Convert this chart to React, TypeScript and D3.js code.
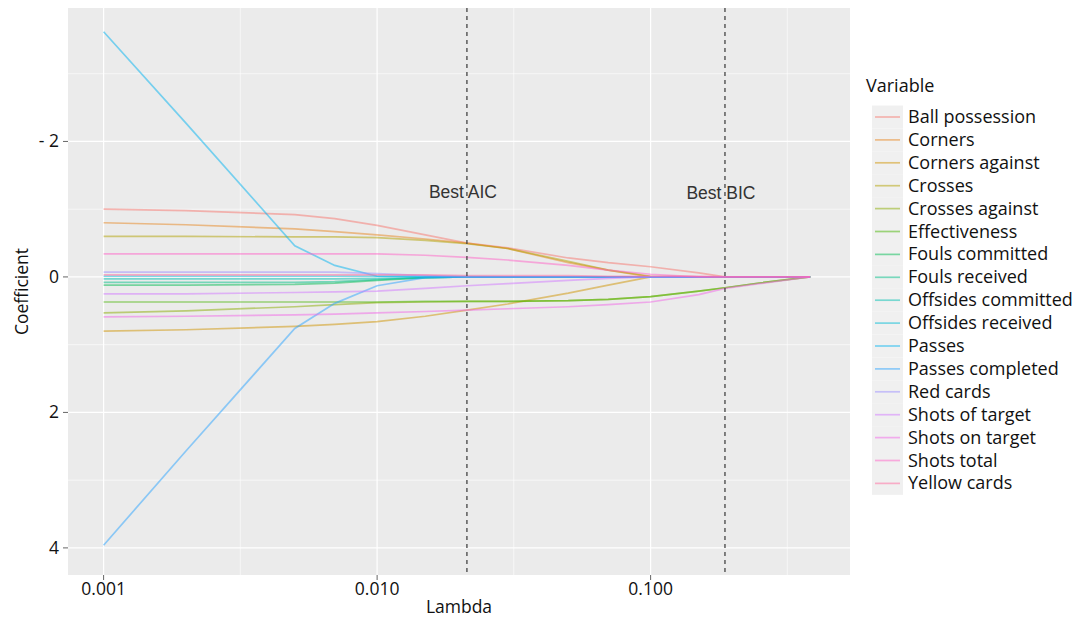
import React from 'react';
import * as d3 from 'd3';

// ---------- DATA ----------
const lambdas = [0.001, 0.002, 0.005, 0.007, 0.01, 0.015, 0.0213, 0.03, 0.05, 0.07, 0.1, 0.15, 0.187, 0.25, 0.383];

const variableNames = [
  'Ball possession', 'Corners', 'Corners against', 'Crosses', 'Crosses against',
  'Effectiveness', 'Fouls committed', 'Fouls received', 'Offsides committed',
  'Offsides received', 'Passes', 'Passes completed', 'Red cards',
  'Shots of target', 'Shots on target', 'Shots total', 'Yellow cards',
];

const ballPossession = [-1.0, -0.98, -0.92, -0.86, -0.76, -0.62, -0.5, -0.43, -0.28, -0.21, -0.15, -0.06, 0, 0, 0];
const corners = [-0.8, -0.77, -0.71, -0.67, -0.62, -0.56, -0.5, -0.42, -0.21, -0.1, 0, 0, 0, 0, 0];
const cornersAgainst = [0.8, 0.78, 0.73, 0.7, 0.66, 0.58, 0.49, 0.4, 0.24, 0.12, 0, 0, 0, 0, 0];
const crosses = [-0.6, -0.6, -0.59, -0.59, -0.58, -0.54, -0.49, -0.42, -0.23, -0.1, -0.01, 0, 0, 0, 0];
const crossesAgainst = [0.53, 0.5, 0.44, 0.41, 0.38, 0.37, 0.36, 0.36, 0.35, 0.33, 0.29, 0.21, 0.16, 0.09, 0];
const effectiveness = [0.37, 0.37, 0.37, 0.37, 0.37, 0.36, 0.36, 0.36, 0.35, 0.33, 0.29, 0.21, 0.16, 0.09, 0];
const foulsCommitted = [0.12, 0.12, 0.11, 0.09, 0.05, 0.01, 0, 0, 0, 0, 0, 0, 0, 0, 0];
const foulsReceived = [0.08, 0.08, 0.08, 0.07, 0.04, 0.01, 0, 0, 0, 0, 0, 0, 0, 0, 0];
const offsidesCommitted = [0.03, 0.03, 0.03, 0.03, 0.02, 0.01, 0, 0, 0, 0, 0, 0, 0, 0, 0];
const offsidesReceived = [-0.01, -0.01, -0.01, -0.01, -0.01, -0.01, -0.005, 0, 0, 0, 0, 0, 0, 0, 0];
const passes = [-3.62, -2.27, -0.46, -0.17, -0.01, 0, 0, 0, 0, 0, 0, 0, 0, 0, 0];
const passesCompleted = [3.96, 2.57, 0.76, 0.39, 0.13, 0.01, 0, 0, 0, 0, 0, 0, 0, 0, 0];
const redCards = [-0.07, -0.07, -0.07, -0.07, -0.05, -0.02, 0, 0, 0, 0, 0, 0, 0, 0, 0];
const shotsOfTarget = [0.25, 0.25, 0.23, 0.22, 0.21, 0.17, 0.13, 0.1, 0.05, 0.02, 0, 0, 0, 0, 0];
const shotsOnTarget = [0.59, 0.58, 0.56, 0.55, 0.53, 0.51, 0.49, 0.47, 0.44, 0.41, 0.37, 0.26, 0.17, 0.1, 0];
const shotsTotal = [-0.34, -0.34, -0.34, -0.34, -0.34, -0.32, -0.29, -0.25, -0.17, -0.1, -0.04, 0, 0, 0, 0];
const yellowCards = [-0.03, -0.03, -0.03, -0.03, -0.03, -0.03, -0.02, -0.02, -0.02, -0.01, -0.01, -0.01, 0, 0, 0];

const seriesValues = [
  ballPossession, corners, cornersAgainst, crosses, crossesAgainst, effectiveness,
  foulsCommitted, foulsReceived, offsidesCommitted, offsidesReceived, passes,
  passesCompleted, redCards, shotsOfTarget, shotsOnTarget, shotsTotal, yellowCards,
];

const bestAIC = 0.0213;
const bestBIC = 0.187;

const xTicks = [0.001, 0.01, 0.1];
const xTickLabels = ['0.001', '0.010', '0.100'];
const xMinorTicks = [0.00316, 0.0316, 0.316];
const yTicks = [-2, 0, 2, 4];
const yTickLabels = ['- 2', '0', '2', '4'];
const yMinorTicks = [-3, -1, 1, 3];

// ---------- COLOURS (ggplot hue palette, polar Luv) ----------
function hclHex(h: number, c: number, l: number): string {
  const hr = (h * Math.PI) / 180;
  const U = c * Math.cos(hr);
  const V = c * Math.sin(hr);
  const Y = l > 8 ? Math.pow((l + 16) / 116, 3) : l / 903.3;
  const un = 0.1978398;
  const vn = 0.4683363;
  const u = U / (13 * l) + un;
  const v = V / (13 * l) + vn;
  const X = (9 * Y * u) / (4 * v);
  const Z = (Y * (12 - 3 * u - 20 * v)) / (4 * v);
  const lin = [
    3.2404542 * X - 1.5371385 * Y - 0.4985314 * Z,
    -0.969266 * X + 1.8760108 * Y + 0.041556 * Z,
    0.0556434 * X - 0.2040259 * Y + 1.0572252 * Z,
  ];
  const gam = lin.map((x) => {
    const g = x <= 0.0031308 ? 12.92 * x : 1.055 * Math.pow(x, 1 / 2.4) - 0.055;
    return Math.round(Math.max(0, Math.min(1, g)) * 255);
  });
  return d3.rgb(gam[0], gam[1], gam[2]).formatHex();
}

const n = variableNames.length;
const colors = variableNames.map((_, i) => hclHex(15 + (360 / n) * i, 100, 65));

// ---------- LAYOUT ----------
const W = 1085;
const H = 619;
const panel = { left: 68, right: 850, top: 8, bottom: 575 };
const FONT = "'Open Sans', sans-serif";
const LINE_OPACITY = 0.5;

export default function App() {
  const x = d3.scaleLog().domain([0.000741, 0.5358]).range([panel.left, panel.right]);
  const y = d3.scaleLinear().domain([-3.97, 4.4]).range([panel.top, panel.bottom]);

  const line = d3
    .line<number>()
    .x((_, i) => x(lambdas[i]))
    .y((d) => y(d));

  const legendX = 866;
  const legendTitleY = 92;
  const rowY0 = 117;
  const rowH = 22.9;

  return (
    <svg width={W} height={H} style={{ position: 'absolute', left: 0, top: 0, background: '#fff' }}>
      <rect x={panel.left} y={panel.top} width={panel.right - panel.left} height={panel.bottom - panel.top} fill="#EBEBEB" />
      {yMinorTicks.map((t) => (
        <line key={'ym' + t} x1={panel.left} x2={panel.right} y1={y(t)} y2={y(t)} stroke="#fff" strokeWidth={0.6} />
      ))}
      {xMinorTicks.map((t) => (
        <line key={'xm' + t} y1={panel.top} y2={panel.bottom} x1={x(t)} x2={x(t)} stroke="#fff" strokeWidth={0.6} />
      ))}
      {yTicks.map((t) => (
        <line key={'yg' + t} x1={panel.left} x2={panel.right} y1={y(t)} y2={y(t)} stroke="#fff" strokeWidth={1.2} />
      ))}
      {xTicks.map((t) => (
        <line key={'xg' + t} y1={panel.top} y2={panel.bottom} x1={x(t)} x2={x(t)} stroke="#fff" strokeWidth={1.2} />
      ))}

      {seriesValues.map((vals, i) => (
        <path key={variableNames[i]} d={line(vals) || ''} fill="none" stroke={colors[i]} strokeOpacity={LINE_OPACITY} strokeWidth={1.7} />
      ))}

      {[bestAIC, bestBIC].map((b) => (
        <line key={'best' + b} x1={x(b)} x2={x(b)} y1={panel.top} y2={panel.bottom} stroke="#444" strokeWidth={1.3} strokeDasharray="4,4" />
      ))}
      <text x={x(bestAIC) - 4} y={198} textAnchor="middle" fontFamily="'Liberation Sans', Arial, sans-serif" fontSize={17.5} fill="#333">Best AIC</text>
      <text x={x(bestBIC) - 4} y={199} textAnchor="middle" fontFamily="'Liberation Sans', Arial, sans-serif" fontSize={17.5} fill="#333">Best BIC</text>

      {/* axes */}
      {yTicks.map((t, i) => (
        <g key={'yt' + t}>
          <line x1={panel.left - 5} x2={panel.left} y1={y(t)} y2={y(t)} stroke="#666" strokeWidth={1} />
          <text x={panel.left - 9} y={y(t) + 6} textAnchor="end" fontFamily={FONT} fontSize={17.5} fill="#111">{yTickLabels[i]}</text>
        </g>
      ))}
      {xTicks.map((t, i) => (
        <g key={'xt' + t}>
          <line y1={panel.bottom} y2={panel.bottom + 5} x1={x(t)} x2={x(t)} stroke="#666" strokeWidth={1} />
          <text x={x(t)} y={595} textAnchor="middle" fontFamily={FONT} fontSize={17.5} fill="#111">{xTickLabels[i]}</text>
        </g>
      ))}
      <text x={(panel.left + panel.right) / 2} y={613} textAnchor="middle" fontFamily={FONT} fontSize={17.5} fill="#111">Lambda</text>
      <text transform={`translate(28, ${(panel.top + panel.bottom) / 2}) rotate(-90)`} textAnchor="middle" fontFamily={FONT} fontSize={17.5} fill="#111">Coefficient</text>

      {/* legend */}
      <text x={legendX} y={legendTitleY} fontFamily={FONT} fontSize={18} fill="#111">Variable</text>
      {variableNames.map((name, i) => {
        const cy = rowY0 + i * rowH;
        return (
          <g key={'lg' + name}>
            <rect x={872} y={cy - rowH / 2} width={31} height={rowH} fill="#F0F0F0" />
            <line x1={875} x2={900} y1={cy} y2={cy} stroke={colors[i]} strokeOpacity={LINE_OPACITY} strokeWidth={1.7} />
            <text x={908} y={cy + 6} fontFamily={FONT} fontSize={18} fill="#111">{name}</text>
          </g>
        );
      })}
    </svg>
  );
}
